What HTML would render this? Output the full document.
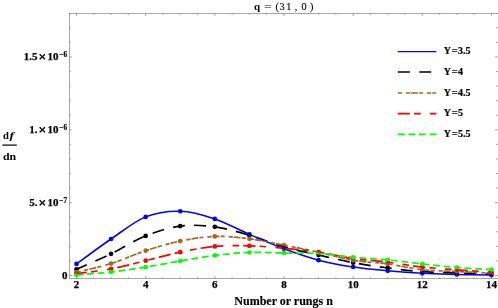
<!DOCTYPE html>
<html><head><meta charset="utf-8"><title>plot</title>
<style>html,body{margin:0;padding:0;background:#fff}body{width:498px;height:308px;overflow:hidden;font-family:"Liberation Serif",serif}</style></head>
<body>
<svg width="498" height="308" viewBox="0 0 498 308" style="display:block;will-change:transform">
<rect width="498" height="308" fill="#fff"/>
<g stroke="#989898" stroke-width="0.85" fill="none">
<rect x="69.50" y="13.50" width="429.00" height="265.00"/>
</g>
<path d="M76.50 278.90 v-2.80 M76.50 13.10 v2.80 M93.79 278.90 v-1.70 M93.79 13.10 v1.70 M111.08 278.90 v-1.70 M111.08 13.10 v1.70 M128.37 278.90 v-1.70 M128.37 13.10 v1.70 M145.66 278.90 v-2.80 M145.66 13.10 v2.80 M162.95 278.90 v-1.70 M162.95 13.10 v1.70 M180.24 278.90 v-1.70 M180.24 13.10 v1.70 M197.53 278.90 v-1.70 M197.53 13.10 v1.70 M214.82 278.90 v-2.80 M214.82 13.10 v2.80 M232.11 278.90 v-1.70 M232.11 13.10 v1.70 M249.40 278.90 v-1.70 M249.40 13.10 v1.70 M266.69 278.90 v-1.70 M266.69 13.10 v1.70 M283.98 278.90 v-2.80 M283.98 13.10 v2.80 M301.27 278.90 v-1.70 M301.27 13.10 v1.70 M318.56 278.90 v-1.70 M318.56 13.10 v1.70 M335.85 278.90 v-1.70 M335.85 13.10 v1.70 M353.14 278.90 v-2.80 M353.14 13.10 v2.80 M370.43 278.90 v-1.70 M370.43 13.10 v1.70 M387.72 278.90 v-1.70 M387.72 13.10 v1.70 M405.01 278.90 v-1.70 M405.01 13.10 v1.70 M422.30 278.90 v-2.80 M422.30 13.10 v2.80 M439.59 278.90 v-1.70 M439.59 13.10 v1.70 M456.88 278.90 v-1.70 M456.88 13.10 v1.70 M474.17 278.90 v-1.70 M474.17 13.10 v1.70 M491.46 278.90 v-2.80 M491.46 13.10 v2.80 M69.10 275.50 h2.70 M498.00 275.50 h-3.00 M69.10 260.93 h1.70 M498.00 260.93 h-2.00 M69.10 246.36 h1.70 M498.00 246.36 h-2.00 M69.10 231.79 h1.70 M498.00 231.79 h-2.00 M69.10 217.22 h1.70 M498.00 217.22 h-2.00 M69.10 202.65 h2.70 M498.00 202.65 h-3.00 M69.10 188.08 h1.70 M498.00 188.08 h-2.00 M69.10 173.51 h1.70 M498.00 173.51 h-2.00 M69.10 158.94 h1.70 M498.00 158.94 h-2.00 M69.10 144.37 h1.70 M498.00 144.37 h-2.00 M69.10 129.80 h2.70 M498.00 129.80 h-3.00 M69.10 115.23 h1.70 M498.00 115.23 h-2.00 M69.10 100.66 h1.70 M498.00 100.66 h-2.00 M69.10 86.09 h1.70 M498.00 86.09 h-2.00 M69.10 71.52 h1.70 M498.00 71.52 h-2.00 M69.10 56.95 h2.70 M498.00 56.95 h-3.00 M69.10 42.38 h1.70 M498.00 42.38 h-2.00 M69.10 27.81 h1.70 M498.00 27.81 h-2.00 M69.10 13.50 h1.70 M498.00 13.50 h-2.00" stroke="#8e8e8e" stroke-width="0.8" fill="none"/>
<g fill="#0000ff"><circle cx="76.50" cy="263.90" r="2.35"/><circle cx="111.08" cy="239.00" r="2.35"/><circle cx="145.66" cy="216.90" r="2.35"/><circle cx="180.24" cy="211.25" r="2.35"/><circle cx="214.82" cy="218.90" r="2.35"/><circle cx="249.40" cy="234.40" r="2.35"/><circle cx="283.98" cy="248.80" r="2.35"/><circle cx="318.56" cy="260.20" r="2.35"/><circle cx="353.14" cy="267.00" r="2.35"/><circle cx="387.72" cy="270.80" r="2.35"/><circle cx="422.30" cy="273.30" r="2.35"/><circle cx="456.88" cy="274.40" r="2.35"/><circle cx="491.46" cy="275.10" r="2.35"/></g>
<g fill="#000000"><circle cx="76.50" cy="269.30" r="2.35"/><circle cx="111.08" cy="253.80" r="2.35"/><circle cx="145.66" cy="235.90" r="2.35"/><circle cx="180.24" cy="226.10" r="2.35"/><circle cx="214.82" cy="226.80" r="2.35"/><circle cx="249.40" cy="235.30" r="2.35"/><circle cx="283.98" cy="246.80" r="2.35"/><circle cx="318.56" cy="255.00" r="2.35"/><circle cx="353.14" cy="262.70" r="2.35"/><circle cx="387.72" cy="267.90" r="2.35"/><circle cx="422.30" cy="271.70" r="2.35"/><circle cx="456.88" cy="273.00" r="2.35"/><circle cx="491.46" cy="274.00" r="2.35"/></g>
<g fill="#a2672a"><circle cx="76.50" cy="272.20" r="2.35"/><circle cx="111.08" cy="263.60" r="2.35"/><circle cx="145.66" cy="250.70" r="2.35"/><circle cx="180.24" cy="241.10" r="2.35"/><circle cx="214.82" cy="236.40" r="2.35"/><circle cx="249.40" cy="238.80" r="2.35"/><circle cx="283.98" cy="245.20" r="2.35"/><circle cx="318.56" cy="252.20" r="2.35"/><circle cx="353.14" cy="260.30" r="2.35"/><circle cx="387.72" cy="263.90" r="2.35"/><circle cx="422.30" cy="269.70" r="2.35"/><circle cx="456.88" cy="271.50" r="2.35"/><circle cx="491.46" cy="273.00" r="2.35"/></g>
<g fill="#ff0000"><circle cx="76.50" cy="273.60" r="2.35"/><circle cx="111.08" cy="268.90" r="2.35"/><circle cx="145.66" cy="260.70" r="2.35"/><circle cx="180.24" cy="252.20" r="2.35"/><circle cx="214.82" cy="246.40" r="2.35"/><circle cx="249.40" cy="245.80" r="2.35"/><circle cx="283.98" cy="248.30" r="2.35"/><circle cx="318.56" cy="252.00" r="2.35"/><circle cx="353.14" cy="258.50" r="2.35"/><circle cx="387.72" cy="262.20" r="2.35"/><circle cx="422.30" cy="267.00" r="2.35"/><circle cx="456.88" cy="269.80" r="2.35"/><circle cx="491.46" cy="272.10" r="2.35"/></g>
<g fill="#00ff00"><circle cx="76.50" cy="275.00" r="2.35"/><circle cx="111.08" cy="272.00" r="2.35"/><circle cx="145.66" cy="267.10" r="2.35"/><circle cx="180.24" cy="261.00" r="2.35"/><circle cx="214.82" cy="255.40" r="2.35"/><circle cx="249.40" cy="252.50" r="2.35"/><circle cx="283.98" cy="253.00" r="2.35"/><circle cx="318.56" cy="253.50" r="2.35"/><circle cx="353.14" cy="257.30" r="2.35"/><circle cx="387.72" cy="259.90" r="2.35"/><circle cx="422.30" cy="264.00" r="2.35"/><circle cx="456.88" cy="267.50" r="2.35"/><circle cx="491.46" cy="269.70" r="2.35"/></g>
<path d="M76.50 269.30 C82.26 266.72 99.55 259.37 111.08 253.80 C122.61 248.23 134.13 240.52 145.66 235.90 C157.19 231.28 168.71 227.62 180.24 226.10 C191.77 224.58 203.29 225.27 214.82 226.80 C226.35 228.33 237.87 231.97 249.40 235.30 C260.93 238.63 272.45 243.52 283.98 246.80 C295.51 250.08 307.03 252.35 318.56 255.00 C330.09 257.65 341.61 260.55 353.14 262.70 C364.67 264.85 376.19 266.40 387.72 267.90 C399.25 269.40 410.77 270.85 422.30 271.70 C433.83 272.55 445.35 272.62 456.88 273.00 C468.41 273.38 485.70 273.83 491.46 274.00" fill="none" stroke="#000000" stroke-width="1.70" stroke-dasharray="12 9.2" stroke-dashoffset="0.5"/>
<path d="M76.50 263.90 C82.26 259.75 99.55 246.83 111.08 239.00 C122.61 231.17 134.13 221.53 145.66 216.90 C157.19 212.28 168.71 210.92 180.24 211.25 C191.77 211.58 203.29 215.04 214.82 218.90 C226.35 222.76 237.87 229.42 249.40 234.40 C260.93 239.38 272.45 244.50 283.98 248.80 C295.51 253.10 307.03 257.17 318.56 260.20 C330.09 263.23 341.61 265.23 353.14 267.00 C364.67 268.77 376.19 269.75 387.72 270.80 C399.25 271.85 410.77 272.70 422.30 273.30 C433.83 273.90 445.35 274.10 456.88 274.40 C468.41 274.70 485.70 274.98 491.46 275.10" fill="none" stroke="#0000ff" stroke-width="1.55"/>
<path d="M76.50 272.20 C82.26 270.77 99.55 267.18 111.08 263.60 C122.61 260.02 134.13 254.45 145.66 250.70 C157.19 246.95 168.71 243.48 180.24 241.10 C191.77 238.72 203.29 236.78 214.82 236.40 C226.35 236.02 237.87 237.33 249.40 238.80 C260.93 240.27 272.45 242.97 283.98 245.20 C295.51 247.43 307.03 249.68 318.56 252.20 C330.09 254.72 341.61 258.35 353.14 260.30 C364.67 262.25 376.19 262.33 387.72 263.90 C399.25 265.47 410.77 268.43 422.30 269.70 C433.83 270.97 445.35 270.95 456.88 271.50 C468.41 272.05 485.70 272.75 491.46 273.00" fill="none" stroke="#a2672a" stroke-width="1.70" stroke-dasharray="4.2 3.9 4.2 1 6.8 1.2" stroke-dashoffset="0.0"/>
<path d="M76.50 273.60 C82.26 272.82 99.55 271.05 111.08 268.90 C122.61 266.75 134.13 263.48 145.66 260.70 C157.19 257.92 168.71 254.58 180.24 252.20 C191.77 249.82 203.29 247.47 214.82 246.40 C226.35 245.33 237.87 245.48 249.40 245.80 C260.93 246.12 272.45 247.27 283.98 248.30 C295.51 249.33 307.03 250.30 318.56 252.00 C330.09 253.70 341.61 256.80 353.14 258.50 C364.67 260.20 376.19 260.78 387.72 262.20 C399.25 263.62 410.77 265.73 422.30 267.00 C433.83 268.27 445.35 268.95 456.88 269.80 C468.41 270.65 485.70 271.72 491.46 272.10" fill="none" stroke="#ff0000" stroke-width="1.70" stroke-dasharray="12.1 4.2 6.5 9.3 6.5 4.2" stroke-dashoffset="1.6"/>
<path d="M76.50 275.00 C82.26 274.50 99.55 273.32 111.08 272.00 C122.61 270.68 134.13 268.93 145.66 267.10 C157.19 265.27 168.71 262.95 180.24 261.00 C191.77 259.05 203.29 256.82 214.82 255.40 C226.35 253.98 237.87 252.90 249.40 252.50 C260.93 252.10 272.45 252.83 283.98 253.00 C295.51 253.17 307.03 252.78 318.56 253.50 C330.09 254.22 341.61 256.23 353.14 257.30 C364.67 258.37 376.19 258.78 387.72 259.90 C399.25 261.02 410.77 262.73 422.30 264.00 C433.83 265.27 445.35 266.55 456.88 267.50 C468.41 268.45 485.70 269.33 491.46 269.70" fill="none" stroke="#00ff00" stroke-width="1.70" stroke-dasharray="6.8 3.75" stroke-dashoffset="0.0"/>
<text transform="translate(76.50 288.00) scale(1.000 1.000)" text-anchor="middle" style="font-family:'Liberation Serif',serif;font-size:11.00px;font-weight:bold;stroke:#000;stroke-width:0.25px;">2</text>
<text transform="translate(145.66 288.00) scale(1.000 1.000)" text-anchor="middle" style="font-family:'Liberation Serif',serif;font-size:11.00px;font-weight:bold;stroke:#000;stroke-width:0.25px;">4</text>
<text transform="translate(214.82 288.00) scale(1.000 1.000)" text-anchor="middle" style="font-family:'Liberation Serif',serif;font-size:11.00px;font-weight:bold;stroke:#000;stroke-width:0.25px;">6</text>
<text transform="translate(283.98 288.00) scale(1.000 1.000)" text-anchor="middle" style="font-family:'Liberation Serif',serif;font-size:11.00px;font-weight:bold;stroke:#000;stroke-width:0.25px;">8</text>
<text transform="translate(353.14 288.00) scale(1.000 1.000)" text-anchor="middle" style="font-family:'Liberation Serif',serif;font-size:11.00px;font-weight:bold;stroke:#000;stroke-width:0.25px;">10</text>
<text transform="translate(422.30 288.00) scale(1.000 1.000)" text-anchor="middle" style="font-family:'Liberation Serif',serif;font-size:11.00px;font-weight:bold;stroke:#000;stroke-width:0.25px;">12</text>
<text transform="translate(491.46 288.00) scale(1.000 1.000)" text-anchor="middle" style="font-family:'Liberation Serif',serif;font-size:11.00px;font-weight:bold;stroke:#000;stroke-width:0.25px;">14</text>
<text transform="translate(67.40 279.20) scale(1.000 1.000)" text-anchor="end" style="font-family:'Liberation Serif',serif;font-size:11.00px;font-weight:bold;stroke:#000;stroke-width:0.25px;">0</text>
<text transform="translate(58.40 206.00) scale(1.000 1.000)" text-anchor="end" style="font-family:'Liberation Serif',serif;font-size:11.00px;font-weight:bold;stroke:#000;stroke-width:0.25px;">10</text><text transform="translate(58.90 203.10) scale(0.500 0.500)" text-anchor="start" style="font-family:'Liberation Serif',serif;font-size:14.40px;font-weight:bold;stroke:#000;stroke-width:0.4px;letter-spacing:0.8px;">−7</text><text transform="translate(46.30 207.20) scale(1.000 1.000)" text-anchor="end" style="font-family:'Liberation Serif',serif;font-size:13.50px;font-weight:bold;stroke:#000;stroke-width:0.35px;">×</text><text transform="translate(37.40 206.00) scale(1.000 1.000)" text-anchor="end" style="font-family:'Liberation Serif',serif;font-size:11.00px;font-weight:bold;stroke:#000;stroke-width:0.25px;">5.</text>
<text transform="translate(58.40 133.00) scale(1.000 1.000)" text-anchor="end" style="font-family:'Liberation Serif',serif;font-size:11.00px;font-weight:bold;stroke:#000;stroke-width:0.25px;">10</text><text transform="translate(58.90 130.10) scale(0.500 0.500)" text-anchor="start" style="font-family:'Liberation Serif',serif;font-size:14.40px;font-weight:bold;stroke:#000;stroke-width:0.4px;letter-spacing:0.8px;">−6</text><text transform="translate(46.30 134.20) scale(1.000 1.000)" text-anchor="end" style="font-family:'Liberation Serif',serif;font-size:13.50px;font-weight:bold;stroke:#000;stroke-width:0.35px;">×</text><text transform="translate(37.40 133.00) scale(1.000 1.000)" text-anchor="end" style="font-family:'Liberation Serif',serif;font-size:11.00px;font-weight:bold;stroke:#000;stroke-width:0.25px;">1.</text>
<text transform="translate(58.40 60.00) scale(1.000 1.000)" text-anchor="end" style="font-family:'Liberation Serif',serif;font-size:11.00px;font-weight:bold;stroke:#000;stroke-width:0.25px;">10</text><text transform="translate(58.90 57.10) scale(0.500 0.500)" text-anchor="start" style="font-family:'Liberation Serif',serif;font-size:14.40px;font-weight:bold;stroke:#000;stroke-width:0.4px;letter-spacing:0.8px;">−6</text><text transform="translate(46.30 61.20) scale(1.000 1.000)" text-anchor="end" style="font-family:'Liberation Serif',serif;font-size:13.50px;font-weight:bold;stroke:#000;stroke-width:0.35px;">×</text><text transform="translate(37.40 60.00) scale(1.000 1.000)" text-anchor="end" style="font-family:'Liberation Serif',serif;font-size:11.00px;font-weight:bold;stroke:#000;stroke-width:0.25px;">1.5</text>
<text transform="translate(283.60 305.10) scale(1.000 1.000)" text-anchor="middle" style="font-family:'Liberation Serif',serif;font-size:12.00px;font-weight:bold;stroke:#000;stroke-width:0.15px;">Number or rungs n</text>
<text transform="translate(3.00 138.60) scale(1.000 1.000)" text-anchor="start" style="font-family:'Liberation Serif',serif;font-size:10.60px;font-weight:bold;">d</text>
<text transform="translate(9.60 138.60) scale(1.300 0.970)" text-anchor="start" style="font-family:'Liberation Serif',serif;font-size:10.60px;font-weight:bold;font-style:italic;">f</text>
<rect x="2.4" y="144.5" width="14.4" height="1.2" fill="#000"/>
<text transform="translate(3.00 159.80) scale(1.050 1.000)" text-anchor="start" style="font-family:'Liberation Serif',serif;font-size:11.30px;font-weight:bold;">dn</text>
<text transform="translate(254.00 9.90) scale(1.000 0.980)" text-anchor="start" style="font-family:'Liberation Serif',serif;font-size:11.00px;font-weight:bold;">q</text>
<text transform="translate(263.90 10.00) scale(1.300 1.100)" text-anchor="start" style="font-family:'Liberation Serif',serif;font-size:10.30px;stroke:#000;stroke-width:0.12px;">=</text>
<text transform="translate(275.50 10.00) scale(1.000 1.100)" text-anchor="start" style="font-family:'Liberation Serif',serif;font-size:10.30px;stroke:#000;stroke-width:0.12px;">(</text>
<text transform="translate(279.50 10.00) scale(1.000 1.100)" text-anchor="start" style="font-family:'Liberation Serif',serif;font-size:10.30px;stroke:#000;stroke-width:0.12px;">3</text>
<text transform="translate(286.30 10.00) scale(1.000 1.100)" text-anchor="start" style="font-family:'Liberation Serif',serif;font-size:10.30px;stroke:#000;stroke-width:0.12px;">1</text>
<text transform="translate(294.80 10.00) scale(1.000 1.100)" text-anchor="start" style="font-family:'Liberation Serif',serif;font-size:10.30px;stroke:#000;stroke-width:0.12px;">,</text>
<text transform="translate(301.60 10.00) scale(1.000 1.100)" text-anchor="start" style="font-family:'Liberation Serif',serif;font-size:10.30px;stroke:#000;stroke-width:0.12px;">0</text>
<text transform="translate(310.00 10.00) scale(1.000 1.100)" text-anchor="start" style="font-family:'Liberation Serif',serif;font-size:10.30px;stroke:#000;stroke-width:0.12px;">)</text>
<path d="M397.8 51.6 H436.3" stroke="#0000ff" stroke-width="1.3"/>
<path d="M397.8 72.0 H409.9 M419.3 72.0 H431.2" stroke="#000" stroke-width="1.60"/>
<path d="M397.8 93.0 H402.0 M405.9 93.0 H410.1 M411.1 93.0 H417.9 M419.1 93.0 H423.1 M426.9 93.0 H431.2 M432.2 93.0 H436.2" stroke="#a2672a" stroke-width="1.60"/>
<path d="M397.8 113.6 H409.9 M414.1 113.6 H420.6 M429.9 113.6 H436.4" stroke="#ff0000" stroke-width="1.60"/>
<path d="M397.8 134.4 H404.7 M408.5 134.4 H415.1 M419.0 134.4 H425.8 M429.9 134.4 H436.4" stroke="#00ff00" stroke-width="1.60"/>
<text transform="translate(443.80 54.20) scale(1.000 1.040)" text-anchor="start" style="font-family:'Liberation Serif',serif;font-size:10.00px;font-weight:bold;stroke:#000;stroke-width:0.2px;">Y</text>
<text transform="translate(451.80 54.20) scale(1.060 1.000)" text-anchor="start" style="font-family:'Liberation Serif',serif;font-size:10.00px;font-weight:bold;stroke:#000;stroke-width:0.2px;">=</text>
<text transform="translate(457.90 54.20) scale(1.000 1.040)" text-anchor="start" style="font-family:'Liberation Serif',serif;font-size:10.00px;font-weight:bold;stroke:#000;stroke-width:0.2px;">3.5</text>
<text transform="translate(443.80 74.60) scale(1.000 1.040)" text-anchor="start" style="font-family:'Liberation Serif',serif;font-size:10.00px;font-weight:bold;stroke:#000;stroke-width:0.2px;">Y</text>
<text transform="translate(451.80 74.60) scale(1.060 1.000)" text-anchor="start" style="font-family:'Liberation Serif',serif;font-size:10.00px;font-weight:bold;stroke:#000;stroke-width:0.2px;">=</text>
<text transform="translate(457.90 74.60) scale(1.000 1.040)" text-anchor="start" style="font-family:'Liberation Serif',serif;font-size:10.00px;font-weight:bold;stroke:#000;stroke-width:0.2px;">4</text>
<text transform="translate(443.80 95.60) scale(1.000 1.040)" text-anchor="start" style="font-family:'Liberation Serif',serif;font-size:10.00px;font-weight:bold;stroke:#000;stroke-width:0.2px;">Y</text>
<text transform="translate(451.80 95.60) scale(1.060 1.000)" text-anchor="start" style="font-family:'Liberation Serif',serif;font-size:10.00px;font-weight:bold;stroke:#000;stroke-width:0.2px;">=</text>
<text transform="translate(457.90 95.60) scale(1.000 1.040)" text-anchor="start" style="font-family:'Liberation Serif',serif;font-size:10.00px;font-weight:bold;stroke:#000;stroke-width:0.2px;">4.5</text>
<text transform="translate(443.80 116.20) scale(1.000 1.040)" text-anchor="start" style="font-family:'Liberation Serif',serif;font-size:10.00px;font-weight:bold;stroke:#000;stroke-width:0.2px;">Y</text>
<text transform="translate(451.80 116.20) scale(1.060 1.000)" text-anchor="start" style="font-family:'Liberation Serif',serif;font-size:10.00px;font-weight:bold;stroke:#000;stroke-width:0.2px;">=</text>
<text transform="translate(457.90 116.20) scale(1.000 1.040)" text-anchor="start" style="font-family:'Liberation Serif',serif;font-size:10.00px;font-weight:bold;stroke:#000;stroke-width:0.2px;">5</text>
<text transform="translate(443.80 137.00) scale(1.000 1.040)" text-anchor="start" style="font-family:'Liberation Serif',serif;font-size:10.00px;font-weight:bold;stroke:#000;stroke-width:0.2px;">Y</text>
<text transform="translate(451.80 137.00) scale(1.060 1.000)" text-anchor="start" style="font-family:'Liberation Serif',serif;font-size:10.00px;font-weight:bold;stroke:#000;stroke-width:0.2px;">=</text>
<text transform="translate(457.90 137.00) scale(1.000 1.040)" text-anchor="start" style="font-family:'Liberation Serif',serif;font-size:10.00px;font-weight:bold;stroke:#000;stroke-width:0.2px;">5.5</text>
</svg>
</body></html>
